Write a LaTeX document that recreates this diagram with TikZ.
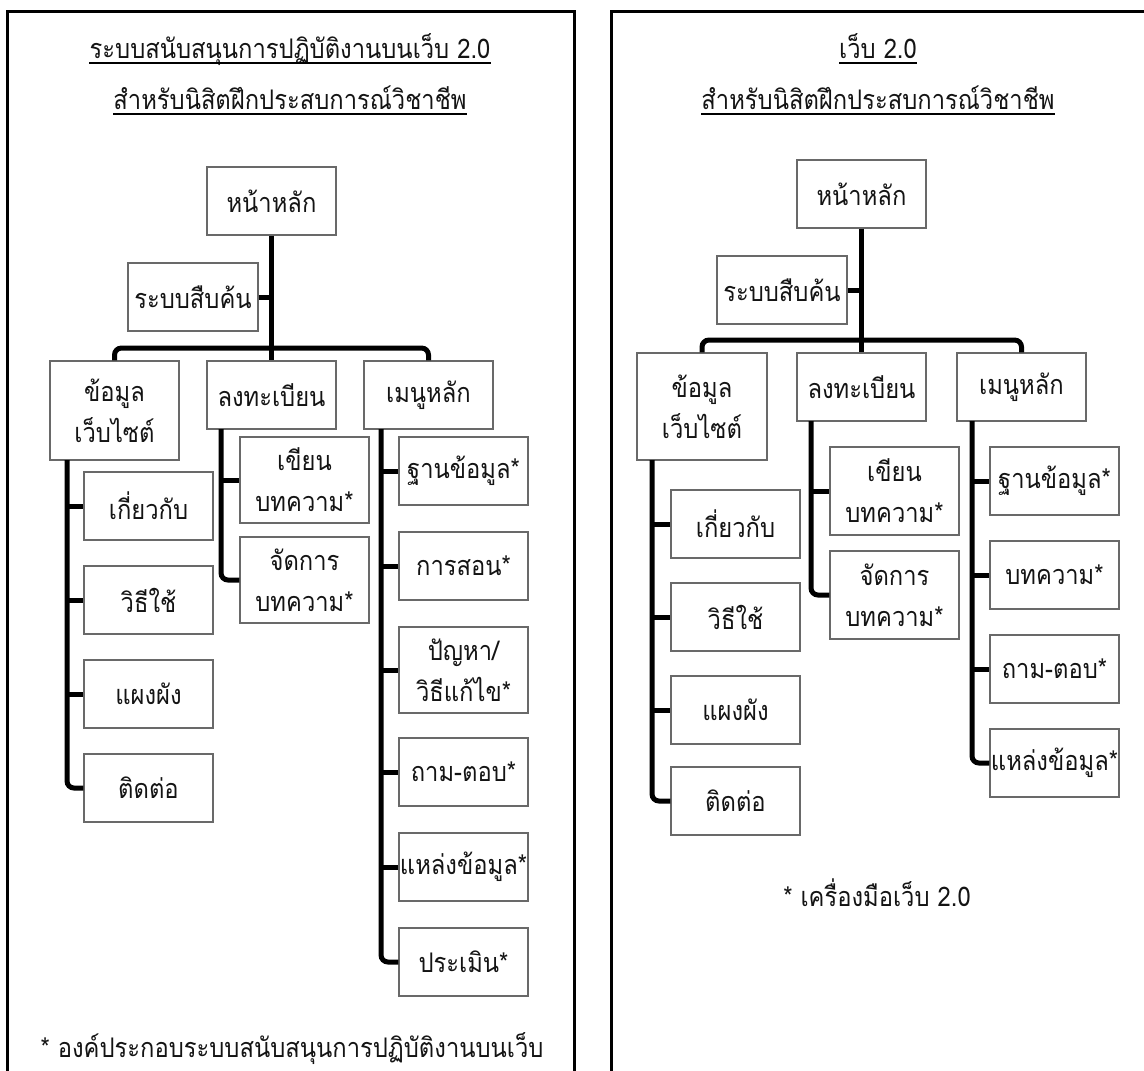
\documentclass[tikz,border=0pt]{standalone}
\usepackage{fontspec}
\setmainfont[Script=Thai, FakeStretch=0.88]{Loma}
\definecolor{boxgray}{RGB}{105,105,105}
\definecolor{ink}{RGB}{20,20,20}
\begin{document}
\begin{tikzpicture}[x=1pt,y=-1pt,
  box/.style={draw=boxgray, line width=1.2pt, fill=white, minimum width=129pt,
    minimum height=68pt, inner sep=0pt, align=center, text=ink,
    font=\fontsize{27}{41}\selectfont},
  conn/.style={line width=5pt, rounded corners=7pt},
  frame/.style={line width=3pt},
  heading/.style={inner sep=0pt, anchor=base, text=ink, font=\fontsize{27}{34}\selectfont},
  uline/.style={line width=1.3pt}]
\clip (0,0) rectangle (1144,1071);
\fill[white] (0,0) rectangle (1144,1071);

% panel frames (open at the bottom, right one runs past the edge)
\draw[frame] (7,1090) -- (7,11) -- (574,11) -- (574,1090);
\draw[frame] (611,1090) -- (611,11) -- (1190,11) -- (1190,1090);

% ---------------- left panel ----------------
\node[heading] (lt1) at (290,58) {ระบบสนับสนุนการปฏิบัติงานบนเว็บ 2.0};
\node[heading] (lt2) at (290,109) {สำหรับนิสิตฝึกประสบการณ์วิชาชีพ};
\draw[uline] ([yshift=-5pt]lt1.base west) -- ([yshift=-5pt]lt1.base east);
\draw[uline] ([yshift=-5pt]lt2.base west) -- ([yshift=-5pt]lt2.base east);

\node[box] (lhome) at (271.5,201) {หน้าหลัก};
\node[box, minimum width=130pt] (lsearch) at (193,297) {ระบบสืบค้น};
\node[box, minimum height=99pt] (linfo) at (114.5,410.5) {ข้อมูล\\เว็บไซต์};
\node[box] (lreg) at (271.5,395) {ลงทะเบียน};
\node[box] (lmenu) at (428.5,395) {เมนูหลัก};

\node[box] (li1) at (148.5,506) {เกี่ยวกับ};
\node[box] (li2) at (148.5,600) {วิธีใช้};
\node[box] (li3) at (148.5,694) {แผงผัง};
\node[box] (li4) at (148.5,788) {ติดต่อ};

\node[box, minimum height=86pt] (lr1) at (304.5,480) {เขียน\\บทความ*};
\node[box, minimum height=86pt] (lr2) at (304.5,580) {จัดการ\\บทความ*};

\node[box] (lm1) at (463.5,471) {ฐานข้อมูล*};
\node[box] (lm2) at (463.5,566) {การสอน*};
\node[box, minimum height=86pt] (lm3) at (463.5,670) {ปัญหา/\\วิธีแก้ไข*};
\node[box] (lm4) at (463.5,772) {ถาม-ตอบ*};
\node[box] (lm5) at (463.5,867) {แหล่งข้อมูล*};
\node[box] (lm6) at (463.5,962) {ประเมิน*};

\node[heading] (lnote) at (292,1057) {* องค์ประกอบระบบสนับสนุนการปฏิบัติงานบนเว็บ};

\coordinate (lhub) at (271.5,348);
\draw[conn] (lhome.south) -- (lreg.north);
\draw[conn] (lsearch.east) -- (lsearch.east -| lhome.south);
\draw[conn] (linfo.north) |- (lhub) -| (lmenu.north);

\coordinate (linfodrop) at (67,460);
\draw[conn] (linfodrop) |- (li4.west);
\foreach \n in {li1,li2,li3} \draw[conn] (\n.west -| linfodrop) -- (\n.west);

\coordinate (lregdrop) at (221,429);
\draw[conn] (lregdrop) |- (lr2.west);
\draw[conn] (lr1.west -| lregdrop) -- (lr1.west);

\coordinate (lmenudrop) at (381,429);
\draw[conn] (lmenudrop) |- (lm6.west);
\foreach \n in {lm1,lm2,lm3,lm4,lm5} \draw[conn] (\n.west -| lmenudrop) -- (\n.west);

% ---------------- right panel ----------------
\node[heading] (rt1) at (878,58) {เว็บ 2.0};
\node[heading] (rt2) at (878,109) {สำหรับนิสิตฝึกประสบการณ์วิชาชีพ};
\draw[uline] ([yshift=-5pt]rt1.base west) -- ([yshift=-5pt]rt1.base east);
\draw[uline] ([yshift=-5pt]rt2.base west) -- ([yshift=-5pt]rt2.base east);

\node[box] (rhome) at (861.5,194) {หน้าหลัก};
\node[box, minimum width=130pt] (rsearch) at (782,290) {ระบบสืบค้น};
\node[box, minimum width=130pt, minimum height=107pt] (rinfo) at (702,406.5) {ข้อมูล\\เว็บไซต์};
\node[box] (rreg) at (861.5,387) {ลงทะเบียน};
\node[box] (rmenu) at (1021.5,387) {เมนูหลัก};

\node[box] (ri1) at (735.5,524) {เกี่ยวกับ};
\node[box] (ri2) at (735.5,617) {วิธีใช้};
\node[box] (ri3) at (735.5,710) {แผงผัง};
\node[box] (ri4) at (735.5,801) {ติดต่อ};

\node[box, minimum height=88pt] (rr1) at (894.5,491) {เขียน\\บทความ*};
\node[box, minimum height=88pt] (rr2) at (894.5,595) {จัดการ\\บทความ*};

\node[box] (rm1) at (1054.5,481) {ฐานข้อมูล*};
\node[box] (rm2) at (1054.5,575) {บทความ*};
\node[box] (rm3) at (1054.5,669) {ถาม-ตอบ*};
\node[box] (rm4) at (1054.5,763) {แหล่งข้อมูล*};

\node[heading] (rnote) at (877,906) {* เครื่องมือเว็บ 2.0};

\coordinate (rhub) at (861.5,340);
\draw[conn] (rhome.south) -- (rreg.north);
\draw[conn] (rsearch.east) -- (rsearch.east -| rhome.south);
\draw[conn] (rinfo.north) |- (rhub) -| (rmenu.north);

\coordinate (rinfodrop) at (652,460);
\draw[conn] (rinfodrop) |- (ri4.west);
\foreach \n in {ri1,ri2,ri3} \draw[conn] (\n.west -| rinfodrop) -- (\n.west);

\coordinate (rregdrop) at (811,421);
\draw[conn] (rregdrop) |- (rr2.west);
\draw[conn] (rr1.west -| rregdrop) -- (rr1.west);

\coordinate (rmenudrop) at (972,421);
\draw[conn] (rmenudrop) |- (rm4.west);
\foreach \n in {rm1,rm2,rm3} \draw[conn] (\n.west -| rmenudrop) -- (\n.west);
\end{tikzpicture}
\end{document}
